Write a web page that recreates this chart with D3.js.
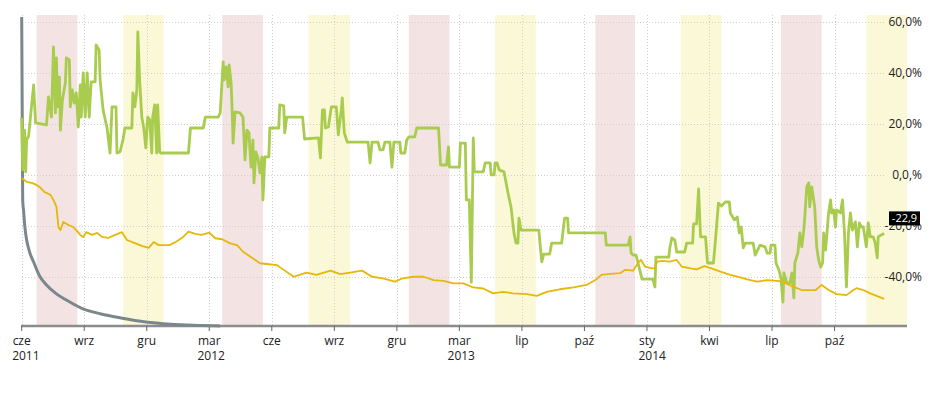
<!DOCTYPE html>
<html><head><meta charset="utf-8">
<script src="https://cdn.jsdelivr.net/npm/d3@7"></script>
<style>body{margin:0;background:#fff}</style>
</head><body><svg id="c" width="940" height="400"></svg>
<script>
// ---- data ----
const tickDays = [0,63,126,189,252,315,378,441,504,567,630,693,756,819];
const tickLabels = [["cze","2011"],["wrz"],["gru"],["mar","2012"],["cze"],["wrz"],["gru"],["mar","2013"],["lip"],["paź"],["sty","2014"],["kwi"],["lip"],["paź"]];
const yTicks = [-40,-20,0,20,40,60];
const yTickLabels = ["-40,0%","-20,0%","0,0,%","20,0%","40,0%","60,0%"];
const pinkBands = [[15,56],[202,243],[390,431],[578,618],[765,806]];
const yellowBands = [[102,143],[289,331],[477,518],[664,705],[851,892]];
const lastLabel = "-22,9";

// green series [day, %]
const strategy = [
[0,22.4],[1,2.0],[3,17.6],[4,1.2],[5,13.7],[7,15.3],[12,35.3],[14,20.4],[25,19.6],[27,30.6],[30,22.7],[32,50.2],[34,24.3],[35,45.9],[36,26.7],[38,38.4],[39,17.6],[41,29.4],[44,36.1],[45,45.9],[48,45.1],[49,26.7],[51,33.3],[53,28.2],[55,32.2],[57,18.8],[59,35.3],[60,22.7],[62,40.0],[64,22.7],[66,40.0],[68,22.7],[70,36.5],[74,36.5],[75,51.0],[78,49.0],[79,37.3],[82,25.5],[86,18.4],[89,8.6],[91,26.7],[95,26.7],[96,8.6],[99,9.0],[102,13.7],[104,18.4],[111,18.4],[112,32.2],[114,26.7],[116,33.3],[117,56.1],[119,36.1],[121,22.7],[123,18.4],[125,10.6],[127,22.7],[129,21.6],[131,8.6],[132,22.7],[134,27.5],[136,8.6],[137,27.5],[139,9.0],[140,8.6],[168,8.6],[170,18.4],[183,18.4],[185,22.7],[198,22.7],[200,24.3],[203,44.3],[204,37.3],[206,42.4],[208,34.5],[209,43.1],[211,36.1],[212,25.5],[213,12.5],[215,24.7],[220,24.3],[223,22.7],[225,5.9],[227,17.6],[229,16.5],[231,3.1],[233,13.7],[234,-3.1],[236,9.0],[238,6.7],[240,0.8],[242,7.1],[243,-9.8],[245,7.1],[249,7.1],[250,18.4],[259,18.4],[260,27.5],[264,27.1],[265,16.5],[267,22.7],[283,22.7],[285,14.1],[299,14.5],[301,6.7],[303,25.5],[305,25.5],[306,18.4],[309,18.8],[312,26.7],[317,26.7],[319,15.7],[322,25.5],[323,30.2],[325,16.5],[328,12.9],[349,12.9],[351,4.7],[353,12.9],[359,12.9],[361,9.8],[364,9.8],[366,12.9],[371,12.9],[373,3.1],[375,12.9],[381,12.9],[382,8.6],[386,8.6],[388,13.7],[390,14.9],[396,14.9],[398,18.4],[420,18.4],[422,3.9],[428,3.9],[430,11.0],[431,3.1],[441,3.1],[442,12.5],[447,12.5],[448,-9.8],[451,-9.8],[453,-42.0],[455,14.5],[456,1.2],[465,1.2],[467,4.7],[472,4.7],[473,0],[476,0],[477,4.7],[479,4.7],[481,2.0],[486,1.2],[490,-7.1],[493,-12.5],[496,-22.7],[498,-26.7],[500,-26.7],[501,-16.9],[503,-21.6],[521,-21.6],[524,-34.1],[526,-31.0],[532,-31.0],[534,-26.7],[544,-26.7],[547,-16.9],[550,-16.9],[551,-22.7],[588,-22.7],[589,-27.5],[611,-27.5],[613,-24.3],[614,-30.6],[616,-31.4],[619,-31.4],[621,-34.5],[625,-40.8],[636,-40.8],[638,-43.9],[639,-32.2],[652,-32.2],[653,-28.6],[655,-24.7],[658,-25.5],[660,-30.2],[668,-30.2],[670,-26.7],[676,-26.7],[677,-19.2],[680,-19.2],[682,-5.5],[684,-24.3],[689,-24.3],[691,-34.5],[697,-34.5],[699,-25.5],[702,-11.0],[705,-12.2],[709,-10.6],[713,-10.6],[714,-14.9],[718,-17.6],[721,-16.5],[723,-22.7],[725,-20.4],[727,-28.6],[729,-26.7],[737,-26.7],[739,-31.4],[744,-27.5],[749,-28.2],[751,-30.6],[754,-30.6],[755,-27.5],[759,-27.5],[760,-34.5],[763,-37.3],[765,-40.4],[767,-49.8],[768,-38.4],[771,-42.4],[774,-42.4],[776,-38.4],[778,-48.2],[779,-34.5],[782,-30.6],[784,-22.7],[786,-28.2],[788,-21.6],[789,-16.5],[791,-4.7],[793,-3.1],[794,-12.5],[796,-4.7],[799,-12.5],[801,-28.2],[803,-33.3],[805,-36.1],[807,-34.5],[808,-22.7],[810,-29.4],[813,-14.9],[815,-9.8],[816,-14.9],[818,-13.7],[820,-20.4],[821,-13.7],[825,-14.9],[827,-9.8],[829,-22.7],[831,-43.9],[833,-22.7],[835,-14.9],[837,-21.6],[840,-18.4],[842,-28.2],[844,-18.8],[846,-20.4],[848,-20.4],[851,-28.2],[853,-18.8],[855,-24.3],[858,-24.3],[860,-26.7],[862,-32.5],[863,-24.3],[866,-23.5],[869,-22.9]
];

// yellow series [day, %]
const benchmark = [
[0,-1.2],[5,-2.7],[10,-3.1],[15,-3.9],[18,-4.7],[23,-6.7],[29,-7.8],[32,-9.8],[35,-12.5],[37,-20.4],[39,-21.6],[42,-18.4],[47,-19.6],[52,-20.4],[55,-21.6],[59,-23.5],[62,-24.3],[65,-22.4],[71,-23.5],[76,-22.7],[81,-24.3],[87,-24.7],[94,-23.5],[101,-22.4],[106,-25.5],[114,-26.7],[121,-27.8],[128,-28.6],[133,-26.3],[138,-27.5],[143,-27.5],[149,-27.5],[156,-26.1],[163,-24.2],[168,-22.2],[175,-23.1],[181,-23.5],[189,-22.6],[195,-24.8],[202,-25.2],[210,-26.8],[217,-27.5],[223,-30.1],[233,-32.7],[240,-34.6],[247,-34.9],[257,-35.3],[264,-37.2],[274,-39.9],[280,-39.2],[287,-38.3],[297,-39.2],[311,-37.5],[321,-38.9],[331,-38.3],[343,-37.5],[353,-39.9],[364,-40.5],[376,-41.8],[384,-40.5],[395,-39.9],[405,-39.9],[415,-41.2],[425,-41.5],[435,-42.5],[445,-42.5],[455,-44.1],[465,-44.5],[475,-46.4],[485,-45.8],[495,-46.4],[509,-46.7],[519,-47.4],[529,-45.8],[542,-44.8],[556,-44.1],[569,-43.1],[578,-41.2],[584,-39.2],[593,-38.8],[603,-38.5],[608,-37.2],[616,-37.5],[621,-34.5],[624,-33.3],[628,-35.9],[635,-36.6],[638,-36.5],[640,-34.0],[646,-33.7],[653,-34.0],[660,-33.3],[665,-35.9],[674,-36.6],[680,-37.0],[688,-35.7],[695,-36.6],[704,-37.9],[714,-39.2],[722,-39.9],[731,-40.9],[741,-41.8],[751,-41.2],[761,-41.5],[767,-41.8],[777,-43.8],[786,-45.1],[794,-45.1],[800,-45.1],[806,-43.1],[813,-45.1],[821,-46.7],[831,-47.1],[838,-45.1],[841,-44.4],[848,-45.1],[855,-46.4],[862,-47.5],[869,-48.6]
];

// gray series [day, index 0-100]
const capital = [
[0,100],[1,40.8],[2,36.9],[3,32.7],[5,27.8],[8,23.9],[12,20.7],[18,16.2],[25,13.3],[35,10.4],[45,8.4],[60,5.8],[80,3.9],[100,2.6],[125,1.3],[150,0.6],[180,0.2],[200,0]
];

// ---- chart ----
const svg = d3.select("#c");
const FONT = "'Open Sans', 'DejaVu Sans', sans-serif";
const x = d3.scaleLinear().domain([0,892]).range([21.7,907]);
const y = d3.scaleLinear().domain([-59.2,62.7]).range([326,15]);
const yc = d3.scaleLinear().domain([0,100]).range([326,17]);
const yTop = y.range()[1], yBot = y.range()[0];

// bands
svg.append("g").selectAll("rect").data(pinkBands).join("rect")
  .attr("x", d=>x(d[0])).attr("width", d=>x(d[1])-x(d[0]))
  .attr("y", yTop).attr("height", yBot-yTop).attr("fill","#f3e3e3");
svg.append("g").selectAll("rect").data(yellowBands).join("rect")
  .attr("x", d=>x(d[0])).attr("width", d=>x(d[1])-x(d[0]))
  .attr("y", yTop).attr("height", yBot-yTop).attr("fill","#fbf8d8");

// grid
const grid = svg.append("g").attr("stroke","#cfcfcf").attr("stroke-dasharray","1,2").attr("stroke-width",1);
grid.selectAll("line.v").data(tickDays).join("line").attr("class","v")
  .attr("x1",d=>Math.round(x(d))+0.5).attr("x2",d=>Math.round(x(d))+0.5)
  .attr("y1",yTop).attr("y2",yBot);
grid.selectAll("line.h").data(yTicks).join("line").attr("class","h")
  .attr("x1",22).attr("x2",886)
  .attr("y1",d=>Math.round(y(d))+0.5).attr("y2",d=>Math.round(y(d))+0.5);

// axis line and ticks
svg.append("line").attr("x1",21).attr("x2",907).attr("y1",yBot).attr("y2",yBot)
  .attr("stroke","#8c8c8c").attr("stroke-width",2.5);
svg.append("g").selectAll("line").data(tickDays).join("line")
  .attr("x1",d=>x(d)).attr("x2",d=>x(d)).attr("y1",yBot).attr("y2",yBot+5)
  .attr("stroke","#666").attr("stroke-width",1);

// x labels: first line centred on the tick, second line aligned to its left edge
const xl = svg.append("g").attr("font-family",FONT).attr("font-size",12).attr("fill","#222");
tickDays.forEach((d,i)=>{
  const t = xl.append("text").attr("y",345).attr("text-anchor","start");
  const first = t.append("tspan").text(tickLabels[i][0]);
  const w = first.node().getComputedTextLength();
  const left = x(d) - w/2;
  first.attr("x", left);
  if (tickLabels[i].length > 1) {
    t.append("tspan").attr("x", left - 0.5).attr("dy", 14.5).text(tickLabels[i][1]);
  }
});

// lines
const line = d3.line().x(d=>x(d[0])).y(d=>y(d[1]));
const lineC = d3.line().x(d=>x(d[0])).y(d=>yc(d[1])).curve(d3.curveMonotoneX);
svg.append("path").datum(capital).attr("d",lineC).attr("fill","none")
  .attr("stroke","#7b878b").attr("stroke-width",3);
svg.append("path").datum(strategy).attr("d",line).attr("fill","none")
  .attr("stroke","#a9cc4e").attr("stroke-width",2.8).attr("stroke-linejoin","round");
svg.append("path").datum(benchmark).attr("d",line).attr("fill","none")
  .attr("stroke","#e6b80a").attr("stroke-width",1.8).attr("stroke-linejoin","round");

// y labels (right)
const yl = svg.append("g").attr("font-family",FONT).attr("font-size",12).attr("fill","#222");
yl.selectAll("text").data(yTicks).join("text")
  .attr("x",922).attr("y",d=>y(d)).attr("dy","0.35em").attr("text-anchor","end")
  .text((d,i)=>yTickLabels[i]);

// last value label
const last = strategy[strategy.length-1];
const ly = y(last[1]) - 22;
svg.append("rect").attr("x",889).attr("y",ly).attr("width",31).attr("height",14).attr("fill","#000");
svg.append("text").attr("x",904.5).attr("y",ly+7).attr("dy","0.35em").attr("text-anchor","middle")
  .attr("font-family",FONT).attr("font-size",11).attr("fill","#fff").text(lastLabel);
</script></body></html>
